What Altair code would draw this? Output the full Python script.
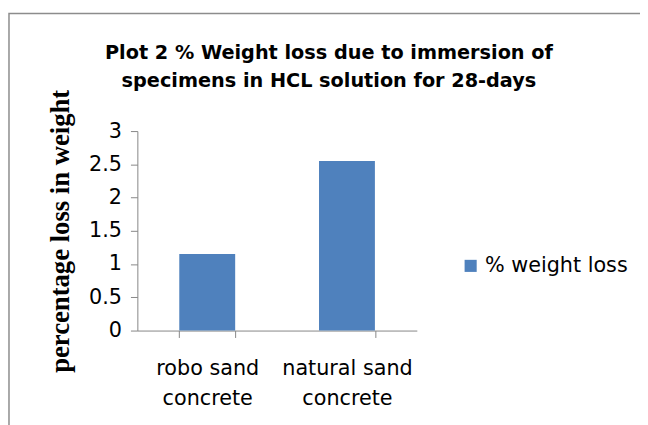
import altair as alt
import pandas as pd

categories = ["robo sand concrete", "natural sand concrete"]
values = [1.15, 2.55]
series = ["% weight loss", "% weight loss"]
title_lines = ["Plot 2 % Weight loss due to immersion of", "specimens in HCL solution for 28-days"]

df = pd.DataFrame({"cat": categories, "val": values, "series": series})

W, H = 283, 202
FONT = "DejaVu Sans"

frame = alt.Chart(pd.DataFrame({"a": [0]})).mark_rect(
    fill=None, stroke="#8c8c8c", strokeWidth=1.5
).encode(
    x=alt.value(-130), x2=alt.value(700), y=alt.value(-119), y2=alt.value(400)
)

title = alt.Chart(pd.DataFrame({"a": [0]})).mark_text(
    text=title_lines, font=FONT, fontSize=19.5, fontWeight="bold", color="black",
    align="center", baseline="alphabetic", lineHeight=28
).encode(x=alt.value(194), y=alt.value(-73))

bars = alt.Chart(df).mark_bar(color="#4F81BD").encode(
    x=alt.X("cat:N", sort=categories, title=None,
            scale=alt.Scale(paddingInner=0.6, paddingOuter=0.3),
            axis=alt.Axis(labelAngle=0, tickBand="extent",
                          labelExpr="[slice(datum.label,0,lastindexof(datum.label,' ')), slice(datum.label,lastindexof(datum.label,' ')+1)]",
                          labelFont=FONT, labelFontSize=21, labelColor="black",
                          labelLineHeight=31, labelPadding=20, tickSize=7,
                          domainColor="#868686", tickColor="#868686")),
    y=alt.Y("val:Q", title="percentage loss in weight",
            scale=alt.Scale(domain=[0, 3]),
            axis=alt.Axis(values=[0, 0.5, 1, 1.5, 2, 2.5, 3], grid=False, format="~g",
                          labelFont=FONT, labelFontSize=21, labelColor="black",
                          labelPadding=9, tickSize=7,
                          domainColor="#868686", tickColor="#868686",
                          titleFont="Liberation Serif", titleFontSize=27, titleFontWeight="bold",
                          titleColor="black", titleX=-78, titleY=101, titleAngle=-90,
                          titleAlign="center", titleBaseline="middle")),
    fill=alt.Fill("series:N", scale=alt.Scale(range=["#4F81BD"]),
                  legend=alt.Legend(title=None, orient="none", legendX=327, legendY=126,
                                    symbolType="square", symbolSize=150,
                                    labelFont=FONT, labelFontSize=21, labelColor="black",
                                    labelLimit=300)),
)

chart = alt.layer(frame, title, bars).properties(
    width=W, height=H,
    padding={"left": 131, "top": 122, "right": 226, "bottom": 93},
    autosize=alt.AutoSizeParams(type="none"),
    background="white",
).configure_view(stroke=None)

chart.save("out.html", embed_options={"renderer": "svg", "actions": False})
